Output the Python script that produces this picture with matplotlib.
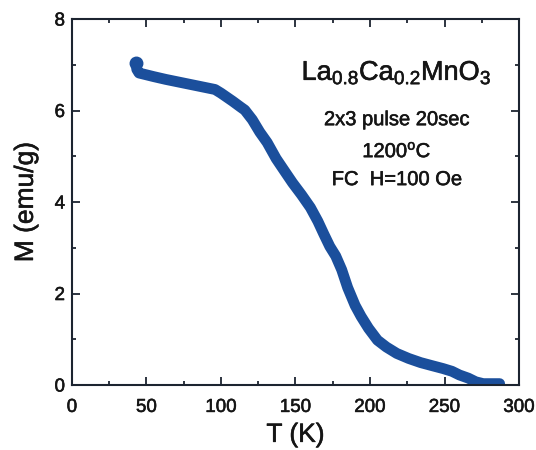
import matplotlib
matplotlib.use("Agg")
import matplotlib.pyplot as plt
import matplotlib.patheffects as pe
from matplotlib.ticker import MultipleLocator

plt.rcParams["font.family"] = ["Liberation Sans", "DejaVu Sans"]
plt.rcParams["mathtext.default"] = "regular"

# M(T) curve
temperature_k = [43, 43.5, 45, 50, 55, 63, 72, 81, 90, 96, 100, 104, 108, 113,
                 116, 121, 126, 131, 137, 143, 148, 154, 160, 165, 169, 173,
                 177, 181, 185, 190, 194, 199, 205, 211, 218, 226, 234, 242,
                 249, 255, 260, 266, 271, 276, 281, 287]
magnetization = [7.04, 6.90, 6.82, 6.78, 6.74, 6.68, 6.62, 6.56, 6.50, 6.46,
                 6.38, 6.29, 6.20, 6.08, 6.01, 5.80, 5.53, 5.30, 4.95, 4.66,
                 4.42, 4.16, 3.88, 3.58, 3.30, 3.03, 2.82, 2.52, 2.13, 1.74,
                 1.50, 1.24, 0.98, 0.83, 0.69, 0.58, 0.49, 0.42, 0.36, 0.30,
                 0.22, 0.15, 0.07, 0.03, 0.03, 0.03]

annotations = [
    r"La$_{0.8}$Ca$_{0.2}$MnO$_3$",
    "2x3 pulse 20sec",
    r"1200$^{o}$C",
    "FC  H=100 Oe",
]

CURVE = "#1b4f9c"
AXIS = "#1c2430"
INK = "#151515"
# scanned print looks a bit heavier than plain regular weight
heavy = [pe.withStroke(linewidth=0.4, foreground=INK)]

fig = plt.figure(figsize=(5.36, 4.5), dpi=100)
ax = fig.add_axes([0.1343, 0.1444, 0.834, 0.8133])

ax.plot(temperature_k, magnetization, color=CURVE, lw=7.8,
        solid_capstyle="round", solid_joinstyle="round")
ax.plot(temperature_k[0], magnetization[0], "o", color=CURVE, ms=9)

ax.set_xlim(0, 300)
ax.set_ylim(0, 8)
ax.xaxis.set_major_locator(MultipleLocator(50))
ax.xaxis.set_minor_locator(MultipleLocator(25))
ax.yaxis.set_major_locator(MultipleLocator(2))
ax.yaxis.set_minor_locator(MultipleLocator(1))
ax.tick_params(which="both", direction="in", top=True, right=True,
               color=AXIS, width=1.3, labelsize=13.5, labelcolor=INK)
ax.tick_params(which="major", length=6)
ax.tick_params(which="minor", length=3)
ax.tick_params(axis="x", which="major", pad=10)
ax.tick_params(axis="y", which="major", pad=5)
for lbl in ax.get_xticklabels() + ax.get_yticklabels():
    lbl.set_path_effects(heavy)
for spine in ax.spines.values():
    spine.set_linewidth(1.5)
    spine.set_color(AXIS)

ax.set_xlabel("T (K)", fontsize=19, color=INK, labelpad=5, path_effects=heavy)
ax.set_ylabel("M (emu/g)", fontsize=19, color=INK, labelpad=12, path_effects=heavy)

sizes = [19.5, 14.5, 14.5, 14.5]
baselines = [6.67, 5.68, 4.98, 4.37]
for label, size, y in zip(annotations, sizes, baselines):
    ax.text(218, y, label, fontsize=size, ha="center", va="baseline",
            color=INK, path_effects=heavy)

fig.savefig("out.png", dpi=100)
